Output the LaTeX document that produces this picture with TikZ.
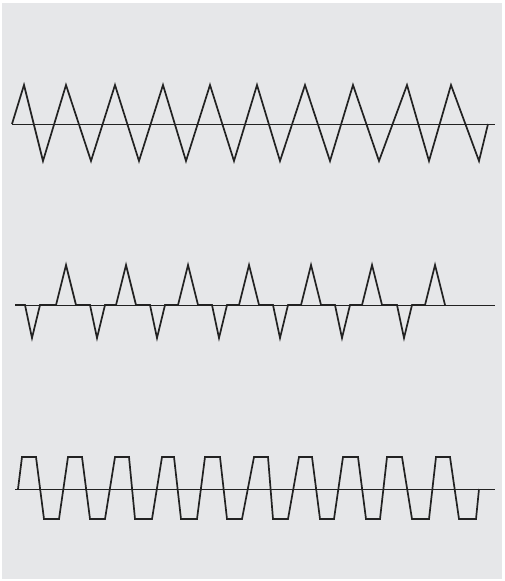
\documentclass[tikz,border=0pt]{standalone}
\usepackage{tikz}
\definecolor{panelgray}{HTML}{E6E7E9}
\definecolor{inkgray}{HTML}{222222}
\begin{document}
\begin{tikzpicture}[
  x=1pt, y=-1pt,
  wave/.style={draw=inkgray, line width=1.7pt, line join=miter},
  axisline/.style={draw=inkgray, line width=0.9pt},
]
  \fill[white] (0,0) rectangle (504,581);
  \fill[panelgray] (2,3) rectangle (502,579);

  % triangle wave
  \coordinate (triL) at (12,124);
  \coordinate (triR) at (495,124);
  \draw[axisline] (triL) -- (triR);
  \draw[wave] (triL)
    \foreach \p/\t in {24/43, 66/91, 115/139, 163/186, 210/234,
                       257/280, 305/330, 353/379, 407/429, 451/479}
      { -- (\p,85) -- (\t,161) } -- (488,124);

  % pulse wave
  \coordinate (pulL) at (15,305);
  \coordinate (pulR) at (495,305);
  \draw[axisline] (pulL) -- (pulR);
  \draw[wave] (pulL)
    \foreach \t/\p in {32/66, 97/126, 157/188, 219/249,
                       280/311, 342/372, 404/435}
      { -- (\t-7,305) -- (\t,338) -- (\t+8,305)
        -- (\p-10,305) -- (\p,265) -- (\p+10,305) };

  % trapezoid wave
  \coordinate (trpL) at (15,489);
  \coordinate (trpR) at (495,489);
  \draw[axisline] (trpL) -- (trpR);
  \draw[wave] (18,489)
    \foreach \a/\b/\c/\d in {22/36/44/59, 68/82/90/105, 115/129/135/152,
                             162/174/181/197, 205/220/227/242, 254/268/273/288,
                             299/312/320/334, 343/358/366/380, 387/402/412/429,
                             436/450/459/476}
      { -- (\a,457) -- (\b,457) -- (\c,519) -- (\d,519) } -- (479,489);
\end{tikzpicture}
\end{document}
